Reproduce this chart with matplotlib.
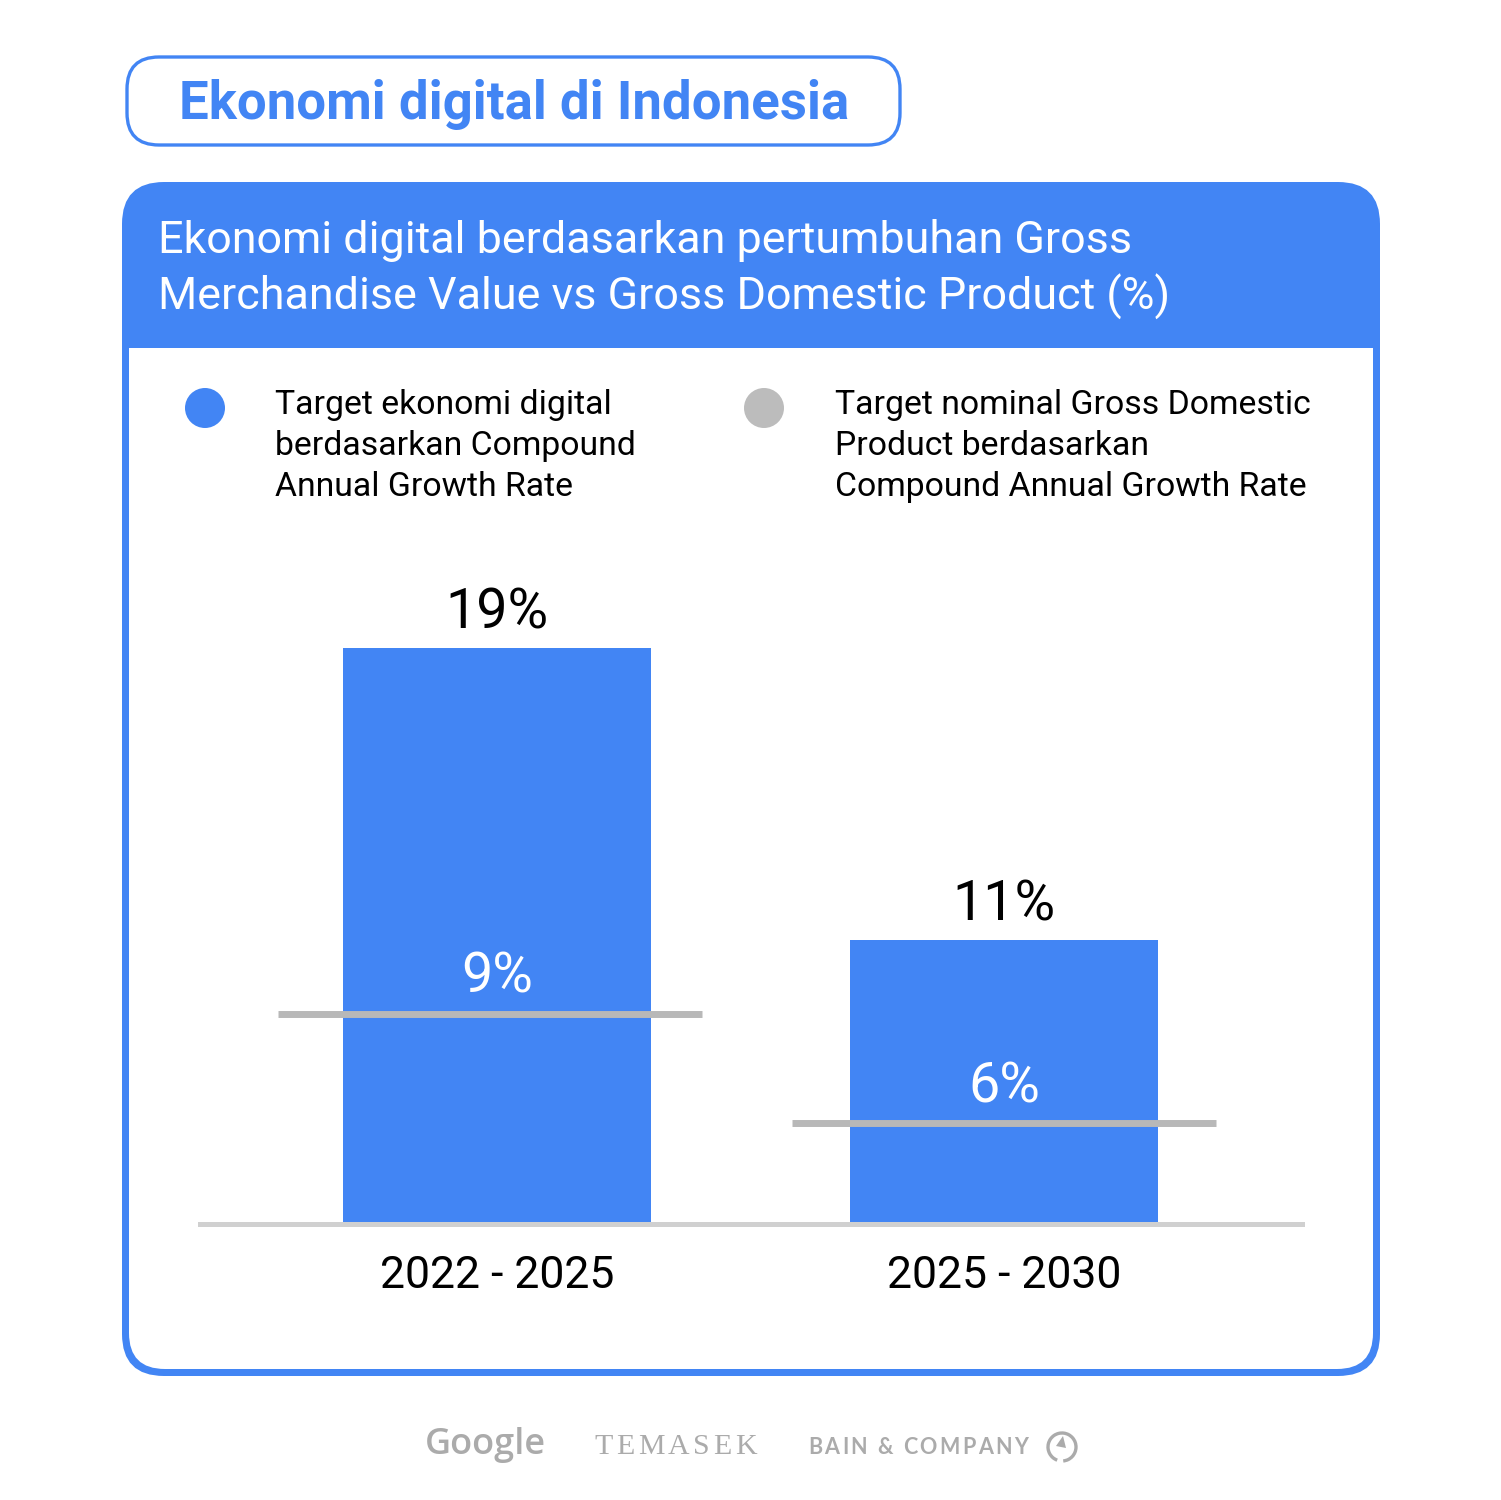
import matplotlib
matplotlib.use("Agg")
import matplotlib.pyplot as plt
from matplotlib.patches import FancyBboxPatch, Rectangle, Circle, Arc, Polygon

plt.rcParams["font.family"] = ["Roboto", "DejaVu Sans"]

# ---- data ----
periods = ["2022 - 2025", "2025 - 2030"]
gmv_cagr = [19, 11]          # Target ekonomi digital (CAGR, %)
gdp_cagr = [9, 6]            # Target nominal GDP (CAGR, %)
axis_floor = 3.24            # value axis does not start at zero in the original

BLUE = "#4285f4"
GREY_LINE = "#b8b8b8"
GREY_BASE = "#d0d0d0"
LOGO = "#ababab"

W, H = 1501, 1500
fig = plt.figure(figsize=(W / 100, H / 100), dpi=100)

# overlay in pixel units for the card decoration
deco = fig.add_axes([0, 0, 1, 1])
deco.set_xlim(0, W); deco.set_ylim(H, 0)
deco.axis("off")

# title pill
deco.add_patch(FancyBboxPatch((127, 57), 773, 88,
                              boxstyle="round,pad=0,rounding_size=32",
                              fc="white", ec=BLUE, lw=2.4))
deco.text(514, 104, "Ekonomi digital di Indonesia", color=BLUE,
          fontsize=38, fontweight="bold", ha="center", va="center")

# card: blue outer shape, white body
deco.add_patch(FancyBboxPatch((122, 182), 1258, 1194,
                              boxstyle="round,pad=0,rounding_size=42",
                              fc=BLUE, ec="none"))
deco.add_patch(FancyBboxPatch((129, 348), 1244, 1021,
                              boxstyle="round,pad=0,rounding_size=36",
                              fc="white", ec="none"))
deco.add_patch(Rectangle((129, 348), 1244, 120, fc="white", ec="none"))
deco.text(158, 241, "Ekonomi digital berdasarkan pertumbuhan Gross",
          color="white", fontsize=32.3, ha="left", va="center")
deco.text(158, 297, "Merchandise Value vs Gross Domestic Product (%)",
          color="white", fontsize=32.3, ha="left", va="center")

# legend
deco.add_patch(Circle((205, 408), 20, fc=BLUE, ec="none"))
deco.add_patch(Circle((764, 408), 20, fc="#bcbcbc", ec="none"))
deco.text(275, 446, "Target ekonomi digital\nberdasarkan Compound\nAnnual Growth Rate",
          fontsize=24.3, ha="left", va="center", linespacing=1.36)
deco.text(835, 446, "Target nominal Gross Domestic\nProduct berdasarkan\nCompound Annual Growth Rate",
          fontsize=24.3, ha="left", va="center", linespacing=1.36)

# ---- bar chart ----
ax = fig.add_axes([200 / W, (H - 1224) / H, 1102 / W, 664 / H])
x = range(len(periods))
bw = 0.6075
line_shift = [-0.014, 0.0]
ax.bar(x, gmv_cagr, width=bw, color=BLUE, zorder=2)
for i, (g, d) in enumerate(zip(gmv_cagr, gdp_cagr)):
    c = i + line_shift[i]
    ax.hlines(d, c - 0.418, c + 0.418, color=GREY_LINE, lw=5.0, zorder=3)
    ax.annotate(f"{g}%", (i, g), xytext=(0, 14), textcoords="offset points",
                ha="center", va="baseline", fontsize=40, color="black")
    ax.annotate(f"{d}%", (i, d), xytext=(0, 15), textcoords="offset points",
                ha="center", va="baseline", fontsize=40, color="white", zorder=4)
    ax.text(i, -0.079, periods[i], transform=ax.get_xaxis_transform(),
            ha="center", va="center", fontsize=32)
ax.axhline(axis_floor, color=GREY_BASE, lw=3.6, zorder=4, clip_on=False)
ax.set_xlim(-0.5858, 1.5878)
ax.set_ylim(axis_floor, 21.41)
ax.axis("off")

# ---- partner logos (text approximations) ----
renderer = fig.canvas.get_renderer()


def tracked(x0, y0, s, track, **kw):
    for ch in s:
        t = deco.text(x0, y0, ch, ha="left", va="center", **kw)
        x0 += t.get_window_extent(renderer).width + track
    return x0


deco.text(425, 1445, "Google", color=LOGO, fontsize=26, ha="left", va="center",
          fontweight="semibold", family=["Open Sans", "DejaVu Sans"])
tracked(594, 1447, "TEMASEK", 3.6, color=LOGO, fontsize=21.5,
        family=["Liberation Serif", "DejaVu Serif"])
tracked(808, 1447, "BAIN & COMPANY", 2.4, color=LOGO, fontsize=15.5,
        fontweight="bold", family=["Lato", "DejaVu Sans"])
deco.add_patch(Arc((1062, 1447), 28, 28, theta1=-250, theta2=85,
                   color=LOGO, lw=2.4))
deco.add_patch(Polygon([(1063, 1436), (1056, 1446), (1066, 1448)],
                       closed=True, fc=LOGO, ec="none"))

fig.savefig("out.png", dpi=100, facecolor="white")
